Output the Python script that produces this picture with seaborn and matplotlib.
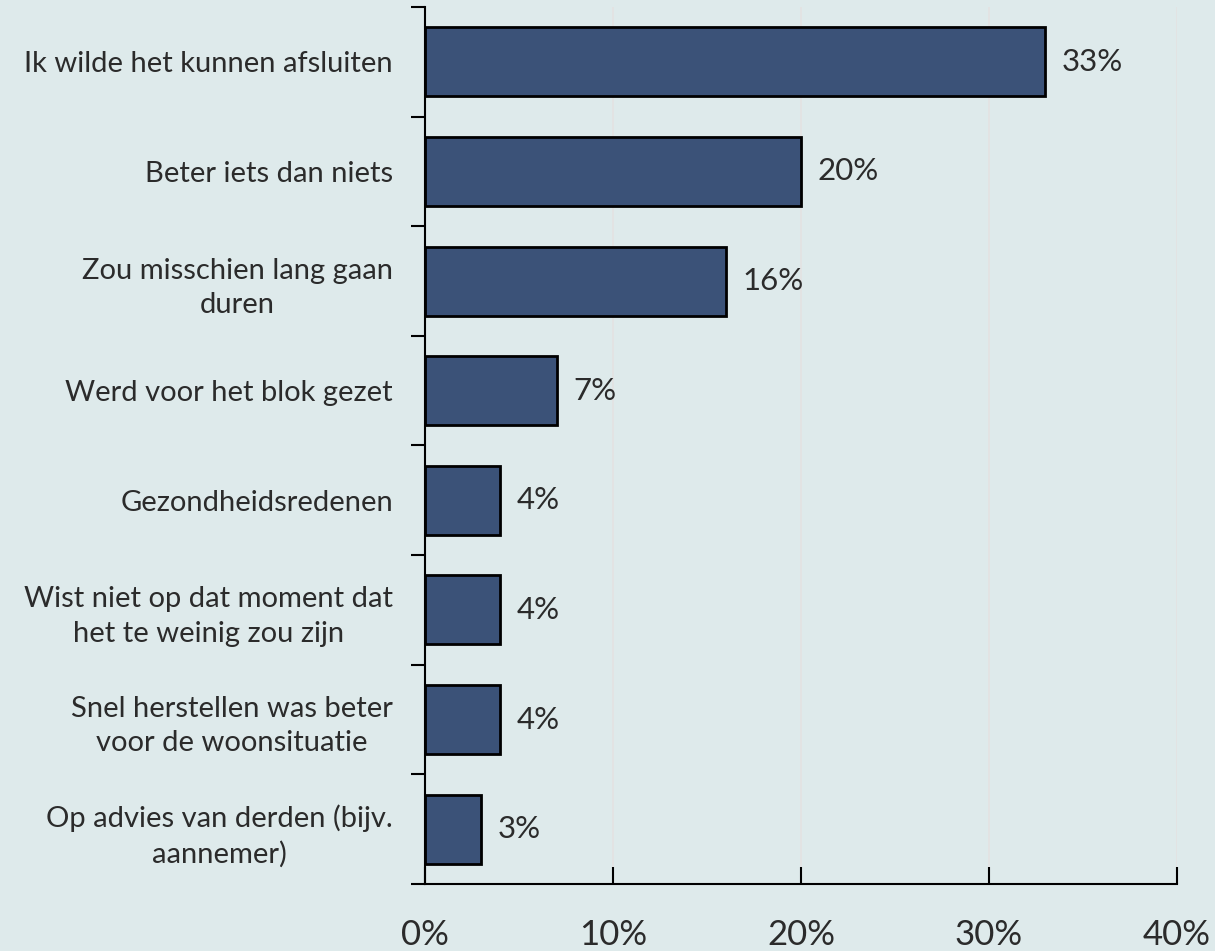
import matplotlib
matplotlib.use("Agg")
import matplotlib.pyplot as plt
import seaborn as sns
import pandas as pd
from matplotlib.ticker import FixedLocator

categories = [
    "Ik wilde het kunnen afsluiten",
    "Beter iets dan niets",
    "Zou misschien lang gaan\nduren",
    "Werd voor het blok gezet",
    "Gezondheidsredenen",
    "Wist niet op dat moment dat\nhet te weinig zou zijn",
    "Snel herstellen was beter\nvoor de woonsituatie",
    "Op advies van derden (bijv.\naannemer)",
]
values = [33, 20, 16, 7, 4, 4, 4, 3]
xticks = [0, 10, 20, 30, 40]
xticklabels = ["0%", "10%", "20%", "30%", "40%"]

bg = "#deeaeb"
bar_color = "#3b5278"
text_color = "#2b2b2b"

sns.set_theme(style="white")
plt.rcParams["font.family"] = ["Lato", "DejaVu Sans"]

df = pd.DataFrame({"cat": categories, "val": values})

fig = plt.figure(figsize=(12.15, 9.51), dpi=100, facecolor=bg)
ax = fig.add_axes([0.3498, 0.0705, 0.6189, 0.9221])
ax.set_facecolor(bg)

sns.barplot(data=df, y="cat", x="val", orient="h", color=bar_color,
            saturation=1, width=0.63, edgecolor="black", linewidth=2, ax=ax)

ax.set_xlim(0, 40)
ax.set_ylim(len(categories) - 0.5, -0.5)
ax.set_xlabel("")
ax.set_ylabel("")

ax.set_xticks(xticks)
ax.set_xticklabels(xticklabels, fontsize=25, color=text_color)
ax.tick_params(axis="x", bottom=True, direction="in", length=12, width=1.5,
               color="black", pad=25)
ax.xaxis.grid(True, color="#e4e2e2", linewidth=1.2)
ax.set_axisbelow(True)

ax.set_yticks(range(len(categories)))
ax.set_yticklabels(categories, fontsize=21, color=text_color)
for t in ax.get_yticklabels():
    t.set_multialignment("center")
    t.set_linespacing(1.4)
ax.tick_params(axis="y", which="major", left=True, length=0, pad=23)
ax.yaxis.set_minor_locator(FixedLocator([i - 0.5 for i in range(len(categories) + 1)]))
ax.tick_params(axis="y", which="minor", left=True, direction="out", length=10,
               width=1.5, color="black")

for s in ["top", "right"]:
    ax.spines[s].set_visible(False)
for s in ["left", "bottom"]:
    ax.spines[s].set_color("black")
    ax.spines[s].set_linewidth(1.5)

for c in ax.containers:
    ax.bar_label(c, labels=[f"{v}%" for v in values], padding=12,
                 fontsize=22.5, color=text_color)

fig.savefig("out.png", dpi=100, facecolor=bg)
